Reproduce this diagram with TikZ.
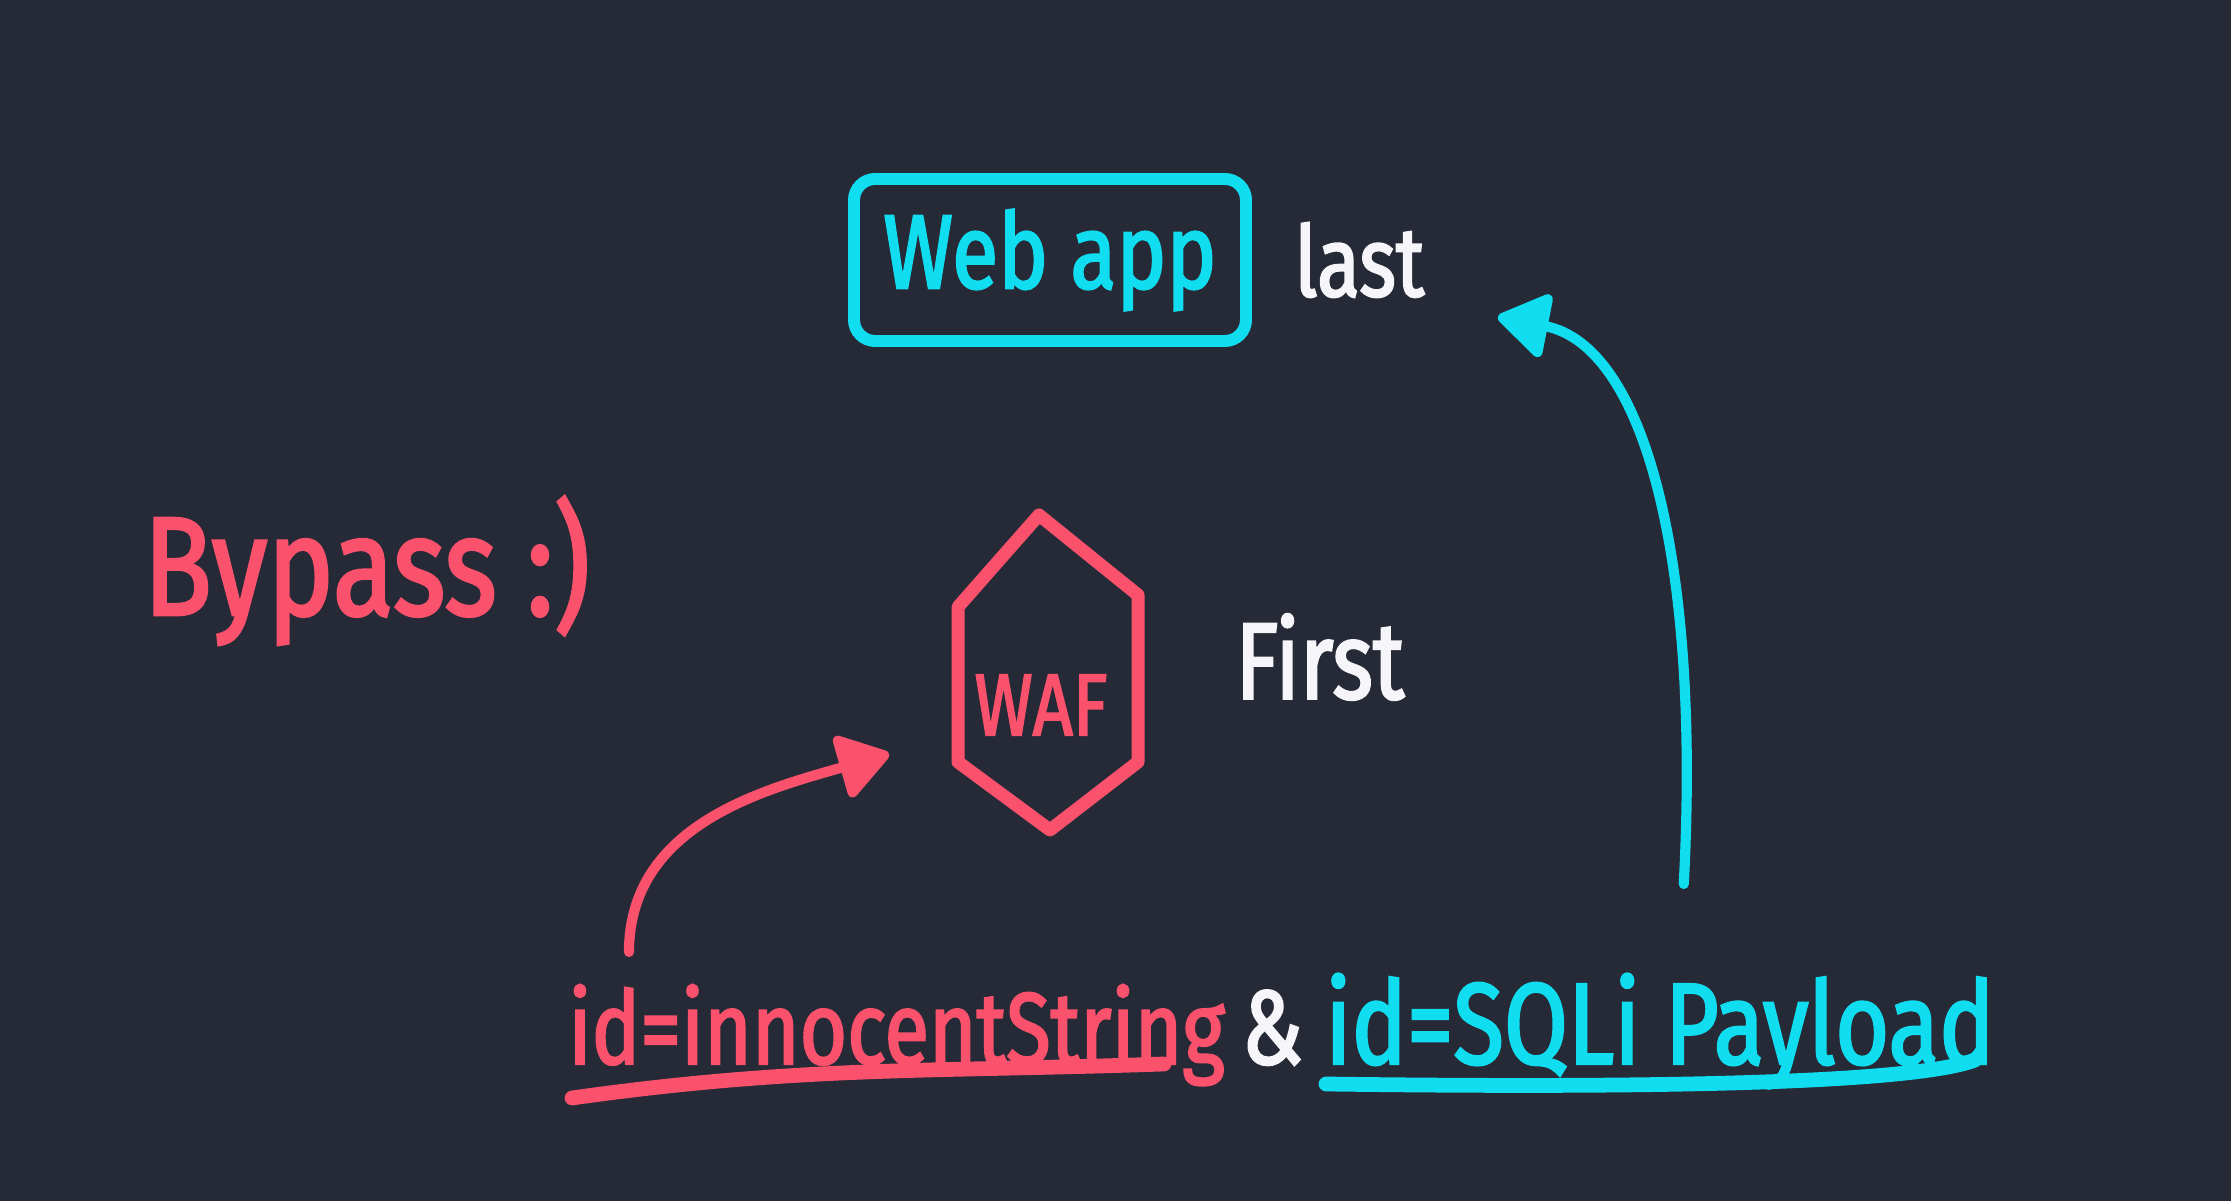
\documentclass[tikz,border=0pt]{standalone}
\usepackage{fontspec}
\setmainfont{Fira Sans}[FakeStretch=0.8, FakeBold=2]
\usetikzlibrary{positioning,arrows.meta}

\definecolor{board}{RGB}{38,41,54}
\definecolor{penred}{RGB}{250,82,108}
\definecolor{pencyan}{RGB}{16,222,240}
\definecolor{penwhite}{RGB}{246,246,250}

\begin{document}
\begin{tikzpicture}[every node/.style={inner sep=1pt, outer sep=0pt},
  hand/.style={font=\fontsize{#1}{#1}\selectfont},
  redpen/.style={draw=penred, line width=2.9pt, line cap=round},
  cyanpen/.style={draw=pencyan, line width=2.9pt, line cap=round},
  tip/.style={-{Triangle[length=5.5mm,width=7mm,round]}}]
\fill[board] (0,0) rectangle (22.31,12.01);

% the two stops
\node[draw=pencyan, line width=3.4pt, rounded corners=6pt, minimum width=3.92cm, minimum height=1.62cm, text=pencyan, hand=30] (webapp) at (10.50,9.41) {Web app};
\node[right=0.45cm of webapp, text=penwhite, hand=28] (last) {last};

\node[text=penred, hand=25] (waf) at (10.41,4.96) {WAF};
\begin{scope}[shift={(waf.center)}]
\draw[penred, line width=3.7pt, line join=round] (-0.02,1.90) -- (0.97,1.10) -- (0.97,-0.57) -- (0.09,-1.25) -- (-0.83,-0.57) -- (-0.83,0.98) -- cycle;
\end{scope}
\node[text=penwhite, hand=31] (first) at (13.20,5.44) {First};

\node[anchor=base west, text=penred, hand=40] (bypass) at (1.40,5.86) {Bypass :)};

% request line
\node[anchor=base west, text=penred, hand=29] (innocent) at (5.65,1.37) {id=innocentString};
\node[base right=0.1cm of innocent, text=penwhite, hand=30] (amp) {\&};
\node[base right=0.15cm of amp, text=pencyan, hand=33] (payload) {id=SQLi Payload};

\draw[redpen, line width=4.2pt] (5.72,1.03) to[out=8,in=182] (11.64,1.37);
\draw[cyanpen, line width=4.2pt] (13.26,1.17) .. controls (17,1.12) and (19.2,1.2) .. (19.75,1.41);

% arrows
\draw[redpen, tip] ([shift={(0.64,0.29)}]innocent.north west) to[out=90,in=196] ([shift={(-1.52,-0.49)}]waf.center);
\draw[cyanpen, tip] ([shift={(3.62,0.86)}]payload.north west) to[out=87,in=-11,out looseness=1.4,in looseness=0.64] ([shift={(0.70,-0.57)}]last.east);
\end{tikzpicture}
\end{document}
